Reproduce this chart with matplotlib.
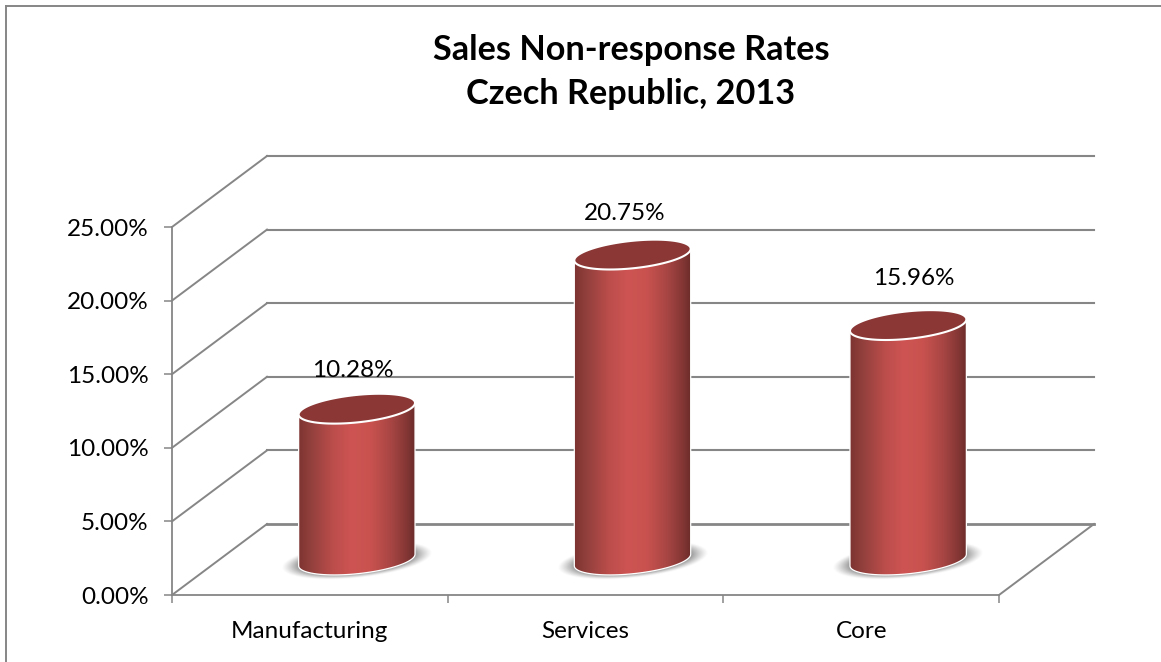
import numpy as np
import matplotlib
matplotlib.use("Agg")
import matplotlib.pyplot as plt
from matplotlib.colors import LinearSegmentedColormap, to_rgb
from matplotlib.lines import Line2D
from matplotlib.patches import Polygon

categories = ["Manufacturing", "Services", "Core"]
rates = [10.28, 20.75, 15.96]
rate_labels = ["10.28%", "20.75%", "15.96%"]
y_ticks = [0, 5, 10, 15, 20, 25]
y_tick_labels = ["0.00%", "5.00%", "10.00%", "15.00%", "20.00%", "25.00%"]
title_lines = ["Sales Non-response Rates", "Czech Republic, 2013"]

W, H = 1161, 662
LEFT, RIGHT, BOTTOM, TOP = 172.0, 999.0, 595.0, 227.0
GREY = "#868686"
FS = 17.5
plt.rcParams["font.family"] = ["Lato", "DejaVu Sans"]

fig = plt.figure(figsize=(W / 100, H / 100), dpi=100, facecolor="white")
ax = fig.add_axes([LEFT / W, 1 - BOTTOM / H, (RIGHT - LEFT) / W, (BOTTOM - TOP) / H])
ax.set_xlim(0, 3)
ax.set_ylim(0, 25)
ax.patch.set_visible(False)
ax.autoscale(False)

ux = 3 / (RIGHT - LEFT)     # data units per pixel
uy = 25 / (BOTTOM - TOP)
DX, DY = 95 * ux, 71 * uy   # depth of the 3-D box

# frame
fig.add_artist(Line2D([5.5 / W, 5.5 / W], [0, 1 - 5.5 / H], color=GREY, lw=1.4))
fig.add_artist(Line2D([5.5 / W, 1], [1 - 5.5 / H, 1 - 5.5 / H], color=GREY, lw=1.4))

# axes
for s in ("top", "right"):
    ax.spines[s].set_visible(False)
for s in ("left", "bottom"):
    ax.spines[s].set_color(GREY)
    ax.spines[s].set_linewidth(1.3)
ax.set_yticks(y_ticks, y_tick_labels, fontsize=FS, color="black")
ax.set_xticks([0, 1, 2, 3], [""] * 4)
ax.tick_params(axis="y", length=5.5, width=1.1, color=GREY, pad=11.5)
ax.tick_params(axis="x", length=6, width=1.1, color=GREY)
for i, c in enumerate(categories):
    ax.annotate(c, (i + 0.5, 0), xytext=(0, -36), textcoords="offset pixels",
                ha="center", va="center", fontsize=FS, annotation_clip=False)

# walls and floor
for v in y_ticks:
    ax.plot([0, DX], [v, v + DY], color=GREY, lw=1.4, clip_on=False, zorder=1)
    ax.plot([DX, 3 + DX], [v + DY, v + DY], color=GREY, lw=2.0 if v == 0 else 1.5,
            clip_on=False, zorder=1)
ax.plot([3, 3 + DX], [0, DY], color=GREY, lw=1.4, clip_on=False, zorder=1)

# cylinders
A, B, TILT = 58.5, 13.7, np.deg2rad(6.0)
cyl_cmap = LinearSegmentedColormap.from_list(
    "cyl", [(0, "#7b3230"), (0.12, "#93403d"), (0.3, "#bb4d4b"), (0.45, "#cd5452"),
            (0.62, "#c9524f"), (0.8, "#a64543"), (0.93, "#823634"), (1, "#682a29")])
CAP = "#8a3735"


def ellipse(t):
    ex, ey = A * np.cos(t), B * np.sin(t)
    return ex * np.cos(TILT) - ey * np.sin(TILT), ex * np.sin(TILT) + ey * np.cos(TILT)


t0 = np.arctan2(-B * np.sin(TILT), A * np.cos(TILT))   # rightmost point parameter
shadow_rgb = to_rgb("#5f5f5f")
CX_PX, CY_PX = 47.0, 35.0
for i, val in enumerate(rates):
    cx = i + 0.5 + CX_PX * ux
    cy = CY_PX * uy
    xdata = lambda px: cx + px * ux
    ydata = lambda base, py: base + py * uy

    # soft floor shadow, tilted like the cylinder base
    px, py = np.meshgrid(np.arange(-90, 90.5, 1.0), np.arange(-34, 34.5, 1.0))
    su = (px * np.cos(TILT) + py * np.sin(TILT)) / 76
    sv = (-px * np.sin(TILT) + py * np.cos(TILT)) / 18
    gr = np.hypot(su, sv)
    alpha = np.clip((1 - gr) / 0.32, 0, 1) ** 1.2 * 0.95
    img = np.dstack([np.full_like(px, c) for c in shadow_rgb] + [alpha])
    ax.imshow(img, extent=[cx - 90 * ux, cx + 90 * ux, cy - 34 * uy, cy + 34 * uy],
              origin="lower", aspect="auto", zorder=2, clip_on=False, interpolation="bilinear")

    top = cy + val
    lx, ly = ellipse(np.linspace(t0 + np.pi, t0 + 2 * np.pi, 80))
    hx, hy = ellipse(np.linspace(t0, t0 + np.pi, 80))
    # lower half of the base ellipse, left to right, then the upper half of the top one
    body_x = np.r_[xdata(lx), xdata(hx)]
    body_y = np.r_[ydata(cy, ly), ydata(top, hy)]
    body = Polygon(np.c_[body_x, body_y], closed=True, facecolor="none", edgecolor="white",
                   lw=0.9, zorder=4, clip_on=False)
    ax.add_patch(body)
    grad = ax.imshow(np.linspace(0, 1, 256)[None, :], cmap=cyl_cmap, vmin=0, vmax=1,
                     extent=[cx - 59.5 * ux, cx + 59.5 * ux, 0, 30], aspect="auto",
                     origin="lower", zorder=3, clip_on=True)
    grad.set_clip_path(body)

    tx, ty = ellipse(np.linspace(0, 2 * np.pi, 160))
    ax.add_patch(Polygon(np.c_[xdata(tx), ydata(top, ty)], closed=True, facecolor=CAP,
                         edgecolor="white", lw=1.5, zorder=5, clip_on=False))

# data labels
label_offsets = [(-4, 38), (-8, 41), (6, 47)]
for i, (val, lab) in enumerate(zip(rates, rate_labels)):
    ax.annotate(lab, (i + 0.5 + CX_PX * ux, CY_PX * uy + val),
                xytext=label_offsets[i], textcoords="offset pixels",
                ha="center", va="center", fontsize=FS, zorder=6, annotation_clip=False)

# title
fig.text(631 / W, 1 - 49.5 / H, title_lines[0], ha="center", va="center", fontsize=24.7, fontweight="bold")
fig.text(631 / W, 1 - 94.5 / H, title_lines[1], ha="center", va="center", fontsize=24.7, fontweight="bold")

fig.savefig("out.png", dpi=100)
